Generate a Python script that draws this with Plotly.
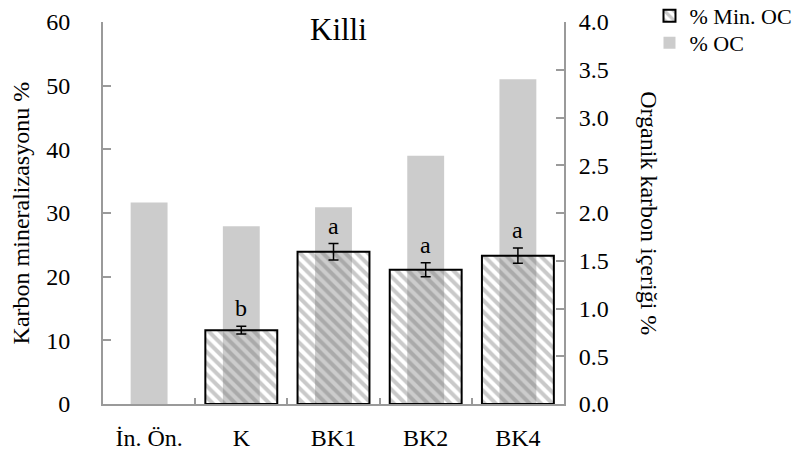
import plotly.graph_objects as go

categories = ["İn. Ön.", "K", "BK1", "BK2", "BK4"]
min_oc = [None, 11.6, 23.9, 21.1, 23.3]
min_oc_err = [0, 0.6, 1.3, 1.1, 1.2]
oc = [2.11, 1.86, 2.06, 2.60, 3.40]
letters = ["", "b", "a", "a", "a"]

FONT = "Liberation Serif, Times New Roman, serif"
AXC = "#9a9a9a"

fig = go.Figure()

fig.add_trace(go.Bar(
    x=categories, y=oc, name="% OC", yaxis="y", width=0.4, legend="legend2",
    marker=dict(color="rgb(204,204,204)", line=dict(width=0)),
))
fig.add_trace(go.Bar(
    x=categories, y=min_oc, name="% Min. OC", yaxis="y2", width=0.78, legend="legend",
    marker=dict(color="rgba(255,255,255,0)",
                line=dict(color="black", width=2),
                pattern=dict(shape="\\", fgcolor="rgb(120,120,120)", fgopacity=0.4,
                             bgcolor="rgba(255,255,255,0)", size=8, solidity=0.5)),
    error_y=dict(type="data", array=min_oc_err, visible=True, color="black",
                 thickness=1.5, width=5),
))

annotations = []
for c, v, e, t in zip(categories, min_oc, min_oc_err, letters):
    if t:
        annotations.append(dict(x=c, y=v + e, xref="x", yref="y2", text=t,
                                showarrow=False, yanchor="bottom", yshift=3,
                                font=dict(family=FONT, size=24, color="black")))
annotations.append(dict(x=0.51, y=0.98, xref="paper", yref="paper", text="Killi",
                        showarrow=False, xanchor="center", yanchor="middle",
                        font=dict(family=FONT, size=31, color="black")))
annotations.append(dict(x=-0.177, y=0.5, xref="paper", yref="paper",
                        text="Karbon mineralizasyonu %", textangle=-90,
                        showarrow=False, xanchor="center", yanchor="middle",
                        font=dict(family=FONT, size=24, color="black")))
annotations.append(dict(x=1.184, y=0.5, xref="paper", yref="paper",
                        text="Organik karbon içeriği %", textangle=90,
                        showarrow=False, xanchor="center", yanchor="middle",
                        font=dict(family=FONT, size=24, color="black")))

leg_common = dict(xref="container", yref="container", xanchor="left", yanchor="middle",
                  font=dict(family=FONT, size=22), itemwidth=30,
                  bgcolor="rgba(0,0,0,0)")

fig.update_layout(
    width=794, height=452,
    margin=dict(l=103, r=230, t=22, b=48, autoexpand=False),
    paper_bgcolor="white", plot_bgcolor="white",
    barmode="overlay",
    font=dict(family=FONT, size=24, color="black"),
    showlegend=True,
    legend=dict(x=0.818, y=1 - 16 / 452, **leg_common),
    legend2=dict(x=0.818, y=1 - 43 / 452, **leg_common),
    xaxis=dict(type="category", showline=True, linecolor=AXC, linewidth=2,
               ticks="inside", tickson="boundaries", ticklen=6, tickcolor=AXC,
               tickwidth=1.5, showgrid=False, zeroline=False, automargin=False,
               tickfont=dict(family=FONT, size=24), ticklabelstandoff=11),
    yaxis=dict(side="right", range=[0, 4], dtick=0.5, tickformat=".1f",
               showline=True, linecolor=AXC, linewidth=2, ticks="inside",
               ticklen=8, tickcolor=AXC, tickwidth=1.5, showgrid=False,
               zeroline=False, automargin=False,
               tickfont=dict(family=FONT, size=24), ticklabelstandoff=8),
    yaxis2=dict(side="left", overlaying="y", range=[0, 60], dtick=10,
                showline=True, linecolor=AXC, linewidth=2, ticks="inside",
                ticklen=8, tickcolor=AXC, tickwidth=1.5, showgrid=False,
                zeroline=False, automargin=False,
                tickfont=dict(family=FONT, size=24), ticklabelstandoff=26),
    annotations=annotations,
)

fig.write_html("out.html")
